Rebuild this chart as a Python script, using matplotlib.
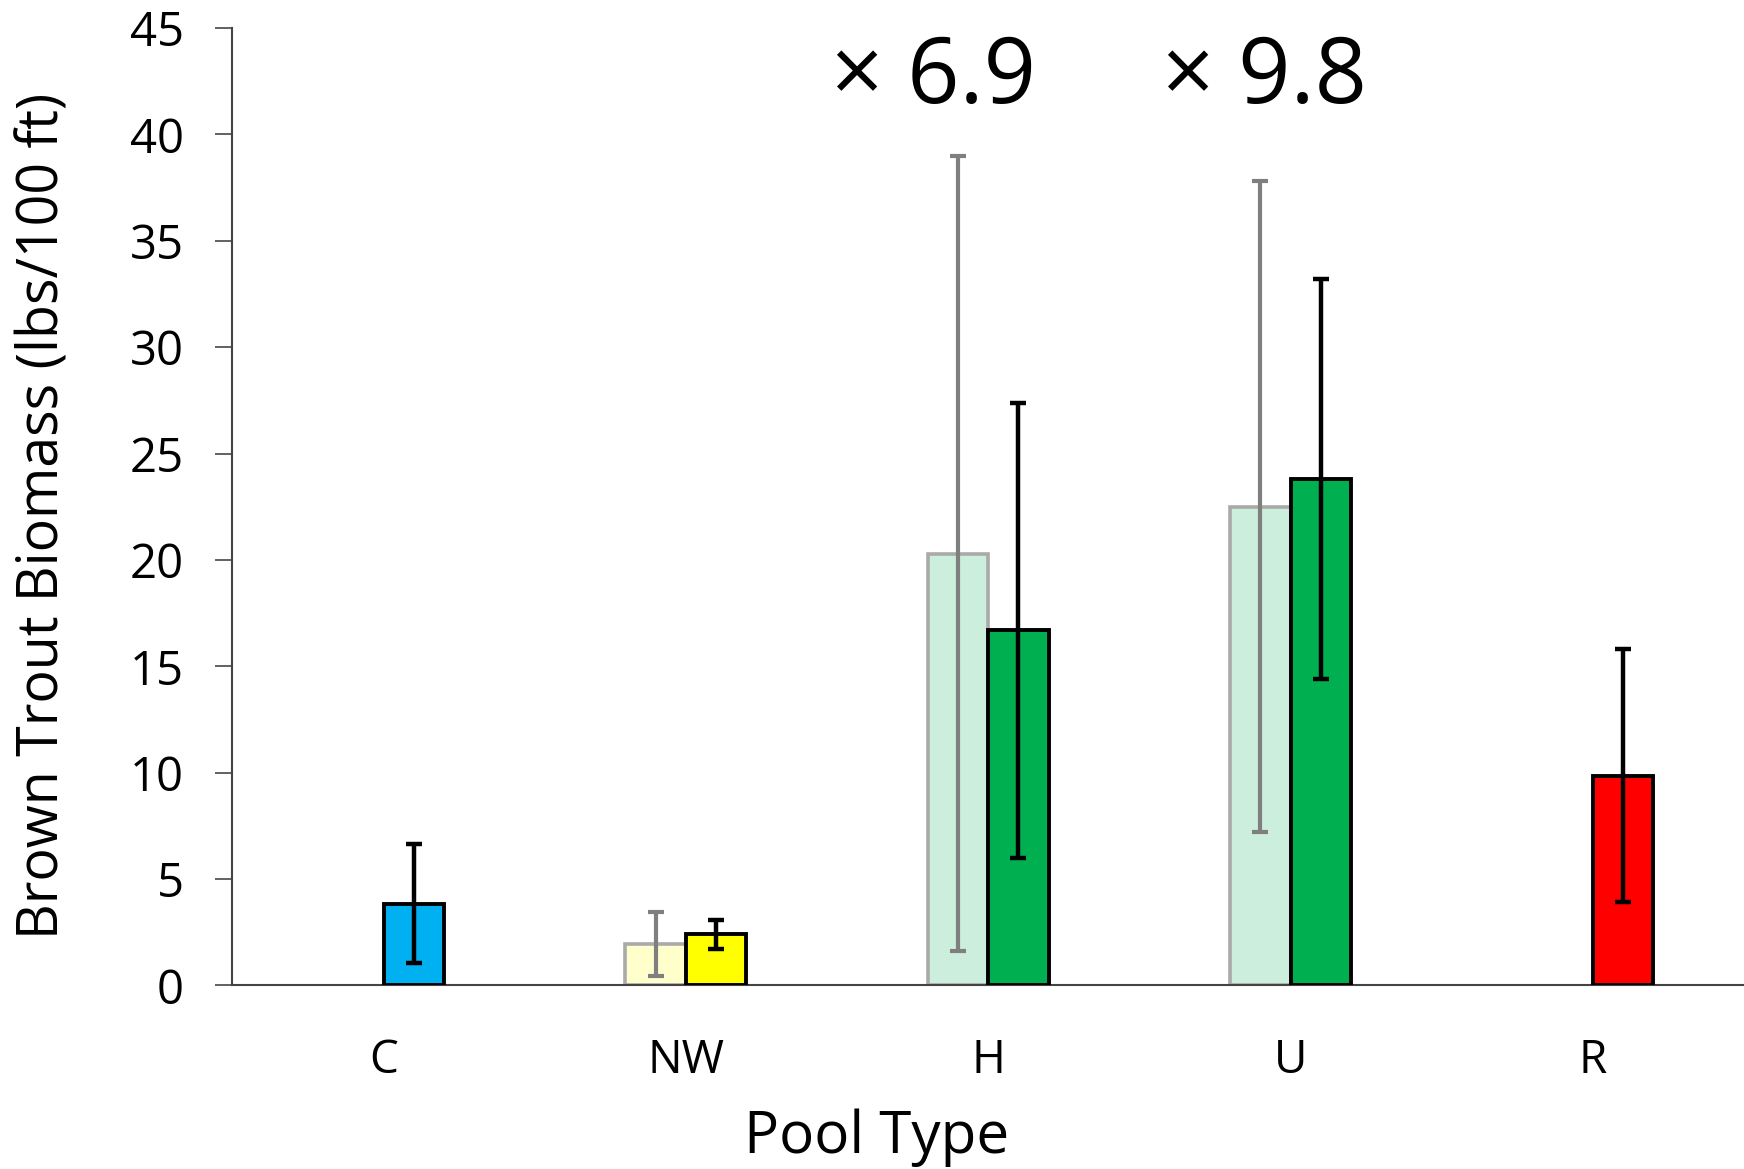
import matplotlib
matplotlib.use("Agg")
import matplotlib.pyplot as plt
import numpy as np

plt.rcParams['font.family'] = ['Open Sans', 'DejaVu Sans']

categories = ['C', 'NW', 'H', 'U', 'R']

# before (faded) values, None where no bar
before_vals = [None, 1.93, 20.3, 22.5, None]
before_err = [None, 1.5, 18.7, 15.3, None]

# after values
after_vals = [3.85, 2.4, 16.7, 23.8, 9.85]
after_err = [2.8, 0.7, 10.7, 9.4, 5.95]

before_colors = [None, '#FFFFCC', '#CCEEDC', '#CCEEDC', None]
after_colors = ['#00B0F0', '#FFFF00', '#00B050', '#00B050', '#FF0000']

ratio_labels = ['', '', '\u00d7 6.9', '\u00d7 9.8', '']

fig = plt.figure(figsize=(17.44, 11.69), dpi=100)
ax = fig.add_axes([0.1333, 0.157, 0.8667, 0.819])

x = np.arange(len(categories))
w = 0.2
label_shift = {2: -0.18, 3: -0.085}

for i in range(len(categories)):
    if before_vals[i] is not None:
        ax.bar(x[i] - w / 2, before_vals[i], width=w, color=before_colors[i],
               edgecolor='#AAAAAA', linewidth=2.6, zorder=2)
        ax.errorbar(x[i] - w / 2, before_vals[i], yerr=before_err[i], fmt='none',
                    ecolor='#7F7F7F', elinewidth=3.0, capsize=5.5, capthick=3.0, zorder=3)
    ax.bar(x[i] + w / 2, after_vals[i], width=w, color=after_colors[i],
           edgecolor='black', linewidth=2.8, zorder=4)
    ax.errorbar(x[i] + w / 2, after_vals[i], yerr=after_err[i], fmt='none',
                ecolor='black', elinewidth=3.2, capsize=5.5, capthick=3.2, zorder=5)
    if ratio_labels[i]:
        ax.text(x[i] + label_shift.get(i, 0), 42.6, ratio_labels[i], ha='center', va='center',
                fontsize=66)

ax.set_xlim(-0.5, 4.5)
ax.set_ylim(0, 45)
ax.set_yticks(np.arange(0, 46, 5))
ax.set_xticks(x)
ax.set_xticklabels(categories)
ax.tick_params(axis='x', length=0, pad=38, labelsize=33)
ax.tick_params(axis='y', length=12, width=1.3, pad=23, labelsize=34, color='#555555')

for s in ['top', 'right']:
    ax.spines[s].set_visible(False)
for s in ['left', 'bottom']:
    ax.spines[s].set_linewidth(1.5)
    ax.spines[s].set_color('#444444')

ax.set_xlabel('Pool Type', fontsize=42)
ax.xaxis.set_label_coords(0.426, -0.129)
ax.set_ylabel('Brown Trout Biomass (lbs/100 ft)', fontsize=40)
ax.yaxis.set_label_coords(-0.106, 0.49)

fig.savefig('out.png', dpi=100)
